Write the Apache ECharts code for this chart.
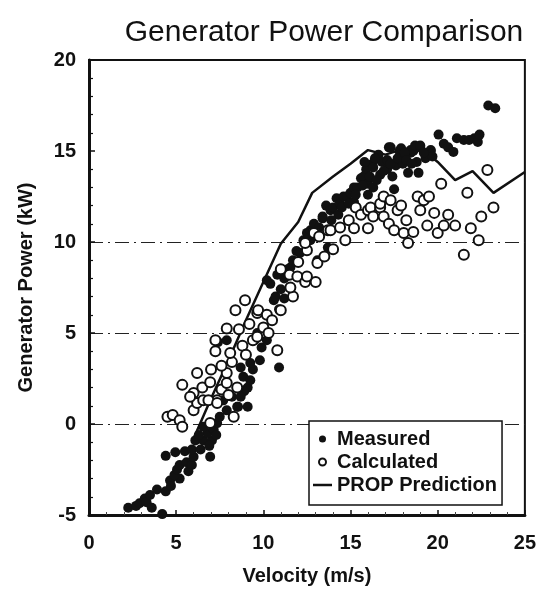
<!DOCTYPE html>
<html>
<head>
<meta charset="utf-8">
<script src="https://cdn.jsdelivr.net/npm/echarts@6/dist/echarts.min.js"></script>
<style>
  html, body { margin: 0; padding: 0; background: #fff; }
  #chart { width: 539px; height: 592px; }
</style>
</head>
<body>
<div id="chart"></div>
<script>
// velocity (m/s), generator power (kW)
const measured = [
  [2.25,-4.6],[2.7,-4.5],[2.9,-4.35],[3.2,-4.1],[3.3,-4.3],[3.6,-4.6],[4.2,-4.95],[3.5,-3.9],[3.9,-3.6],[4.4,-3.7],
  [4.65,-3.1],[4.7,-3.4],[5.2,-3.0],[4.9,-2.8],[5.05,-2.5],[5.2,-2.25],[5.6,-2.1],[5.7,-2.6],[5.9,-2.25],[6.0,-1.8],
  [5.5,-1.5],[4.95,-1.55],[4.4,-1.75],[5.9,-1.4],[6.4,-1.4],[6.95,-1.8],[6.1,-0.9],[6.55,-0.9],[7.05,-0.9],[6.9,-1.2],
  [6.8,-0.5],[6.3,-0.6],[7.15,-0.3],[7.3,-0.6],[6.55,-0.15],[7.35,0.05],[7.5,0.4],[7.9,0.75],[8.55,0.95],[8.2,1.5],
  [7.7,1.3],[7.4,4.5],[7.9,4.6],[8.7,3.1],[8.85,2.6],[9.1,2.0],[8.9,1.8],[8.7,1.5],[9.1,0.95],[8.5,0.95],
  [9.25,2.4],[9.4,3.0],[9.25,3.35],[9.8,3.5],[9.9,4.2],[9.5,4.6],[9.65,5.0],[10.2,4.6],[10.9,3.1],[10.9,6.3],
  [10.6,6.8],[10.7,7.0],[11.2,6.9],[11.0,7.4],[10.4,7.7],[10.2,7.9],[11.2,8.0],[10.8,8.2],[11.4,8.5],[11.55,8.6],
  [11.7,9.0],[11.9,9.5],[12.1,9.4],[12.3,10.1],[12.7,10.1],[12.5,10.5],[12.7,10.65],[13.1,9.0],[13.7,9.7],[13.4,11.3],
  [13.4,11.4],[13.6,12.0],[13.85,11.75],[14.0,11.9],[14.3,11.5],[14.2,12.4],[14.4,12.1],[14.6,12.5],[14.8,12.5],[15.0,12.7],
  [15.2,12.2],[15.2,13.0],[15.4,13.0],[15.6,13.5],[15.75,13.6],[16.0,12.6],[16.0,13.2],[16.3,13.0],[15.9,14.0],[16.25,14.3],
  [16.3,14.1],[16.7,13.7],[16.8,14.4],[16.6,14.8],[17.1,14.0],[17.1,14.5],[17.4,13.6],[17.5,12.9],[17.6,14.2],[17.2,15.2],
  [17.3,15.2],[17.8,15.0],[17.9,14.7],[17.9,15.15],[18.0,14.3],[18.3,13.8],[18.45,14.9],[18.45,15.05],[18.6,15.0],[18.7,15.3],
  [18.8,14.4],[18.9,13.8],[19.0,15.2],[19.0,15.3],[19.3,14.6],[19.6,15.0],[19.6,15.05],[19.7,14.7],[20.05,15.9],[20.35,15.4],
  [20.6,15.2],[20.9,14.95],[21.1,15.7],[21.5,15.6],[21.8,15.6],[22.1,15.7],[22.3,15.5],[22.4,15.9],[22.9,17.5],[23.3,17.35],
  [12.9,11.0],[13.2,10.8],[13.9,11.2],[14.5,11.9],[14.9,12.1],[15.3,12.6],[15.7,13.1],[16.1,13.6],[16.5,13.4],[16.9,13.9],
  [17.3,14.3],[17.7,14.6],[18.1,14.9],[18.2,14.5],[18.5,14.3],[19.2,14.9],[15.8,14.4],[16.4,14.6]
];
const calculated = [
  [4.5,0.4],[4.8,0.5],[5.2,0.2],[5.35,-0.15],[6.0,0.75],[6.2,1.15],[6.0,1.7],[6.55,1.3],[6.95,0.05],[7.35,1.3],
  [5.8,1.5],[5.35,2.15],[6.5,2.0],[6.2,2.8],[6.95,2.3],[6.85,1.3],[7.0,3.0],[7.6,1.9],[7.35,1.15],[8.0,1.6],
  [8.3,0.4],[8.5,2.0],[7.9,2.25],[7.9,2.8],[7.6,3.2],[8.2,3.4],[8.1,3.9],[7.25,4.0],[7.25,4.6],[7.9,5.25],
  [8.4,6.25],[8.95,6.8],[8.6,5.2],[8.8,4.3],[9.0,3.8],[9.4,4.6],[9.2,5.5],[9.65,4.8],[9.65,6.1],[9.7,6.25],
  [10.0,5.3],[10.3,5.0],[10.2,6.0],[10.5,5.7],[10.8,4.05],[11.0,6.25],[11.7,7.0],[11.55,7.5],[11.5,8.2],[11.95,8.1],
  [11.0,8.5],[12.0,8.9],[12.4,7.8],[13.0,7.8],[12.5,8.1],[13.1,8.85],[13.5,9.2],[12.5,9.55],[14.0,9.6],[12.4,9.95],
  [12.9,10.5],[13.2,10.3],[13.7,10.65],[13.85,10.65],[14.4,10.8],[14.7,10.1],[14.9,11.2],[15.2,10.75],[15.3,11.9],[15.6,11.5],
  [16.0,10.75],[16.0,11.75],[16.15,11.9],[16.3,11.4],[16.7,11.9],[16.7,12.1],[16.9,11.4],[16.9,12.5],[17.2,11.0],[17.3,12.3],
  [17.5,10.65],[17.7,11.75],[17.9,12.0],[18.05,10.5],[18.2,11.2],[18.3,9.95],[18.6,10.55],[18.85,12.5],[19.0,11.75],[19.2,12.3],
  [19.4,10.9],[19.5,12.5],[19.8,11.6],[20.0,10.5],[20.2,13.2],[20.35,10.9],[20.6,11.5],[21.0,10.9],[21.5,9.3],[21.7,12.7],
  [21.9,10.75],[22.35,10.1],[22.5,11.4],[22.85,13.95],[23.2,11.9]
];
const propVelocity = [6, 7, 8, 9, 10, 11, 12, 12.8, 14, 15, 16, 17, 18, 19, 20, 21, 22, 23.2, 25];
const propPower = [-0.8, 1.4, 3.5, 5.7, 7.8, 9.9, 11.1, 12.7, 13.6, 14.3, 15.05, 14.8, 15.1, 15.2, 14.4, 13.4, 13.9, 12.7, 13.85];
const yTicks = [-5, 0, 5, 10, 15, 20];
const xTicks = [0, 5, 10, 15, 20, 25];

const font = "'Liberation Sans', Arial, Helvetica, sans-serif";
const chart = echarts.init(document.getElementById("chart"));

const option = {
  animation: false,
  title: {
    text: "Generator Power Comparison",
    left: 319,
    top: 13,
    textAlign: "center",
    textStyle: { fontFamily: font, fontSize: 30, fontWeight: "normal", color: "#111" },
  },
  grid: {
    left: 89, right: 13, top: 60, bottom: 77,
    show: true, borderColor: "#111", borderWidth: 2, backgroundColor: "#fff",
  },
  legend: {
    orient: "vertical",
    left: 309, top: 421,
    padding: [8, 5, 10, 4],
    itemGap: 3,
    itemWidth: 19, itemHeight: 7,
    symbolKeepAspect: true,
    backgroundColor: "#fff",
    borderColor: "#111", borderWidth: 1.5,
    textStyle: { fontFamily: font, fontSize: 20, fontWeight: "bold", color: "#111" },
    data: [
      { name: "Measured", icon: "circle" },
      { name: "Calculated", icon: "circle" },
      { name: "PROP Prediction", icon: "path://M0,0 L19,0 L19,2.5 L0,2.5 Z" },
    ],
  },
  xAxis: {
    type: "value",
    min: xTicks[0], max: xTicks[xTicks.length - 1], interval: 5,
    name: "Velocity (m/s)",
    nameLocation: "middle",
    nameGap: 51,
    nameTextStyle: { fontFamily: font, fontSize: 20, fontWeight: "bold", color: "#111" },
    axisLine: { onZero: false, lineStyle: { color: "#111", width: 3 } },
    axisTick: { inside: true, length: 5, lineStyle: { color: "#111", width: 1.5 } },
    minorTick: { show: true, splitNumber: 5, length: 3, lineStyle: { color: "#444" } },
    axisLabel: { margin: 18, fontFamily: font, fontSize: 20, fontWeight: "bold", color: "#111" },
    splitLine: { show: false },
  },
  yAxis: {
    type: "value",
    min: yTicks[0], max: yTicks[yTicks.length - 1], interval: 5,
    name: "Generator Power (kW)",
    nameLocation: "middle",
    nameGap: 53,
    nameTextStyle: { fontFamily: font, fontSize: 20, fontWeight: "bold", color: "#111" },
    axisLine: { onZero: false, lineStyle: { color: "#111", width: 3 } },
    axisTick: { inside: true, length: 6, lineStyle: { color: "#111", width: 1.5 } },
    minorTick: { show: true, splitNumber: 5, length: 4, lineStyle: { color: "#111", width: 1.2 } },
    axisLabel: { margin: 13, fontFamily: font, fontSize: 20, fontWeight: "bold", color: "#111" },
    splitLine: {
      show: true,
      lineStyle: {
        type: [14, 5, 2, 5],
        width: 1.2,
        // only 0, 5 and 10 get the dash-dot rule
        color: ["transparent", "#222", "#222", "#222", "transparent", "transparent"],
      },
    },
  },
  series: [
    {
      name: "PROP Prediction",
      type: "line",
      data: propVelocity.map((v, i) => [v, propPower[i]]),
      symbol: "none",
      lineStyle: { color: "#111", width: 2.5 },
      itemStyle: { color: "#111" },
      z: 2,
    },
    {
      name: "Measured",
      type: "scatter",
      data: measured,
      symbol: "circle",
      symbolSize: 10,
      itemStyle: { color: "#111", opacity: 1 },
      z: 3,
    },
    {
      name: "Calculated",
      type: "scatter",
      data: calculated,
      symbol: "circle",
      symbolSize: 10,
      itemStyle: { color: "#fff", borderColor: "#111", borderWidth: 2, opacity: 1 },
      z: 4,
    },
  ],
};

chart.setOption(option);
</script>
</body>
</html>
